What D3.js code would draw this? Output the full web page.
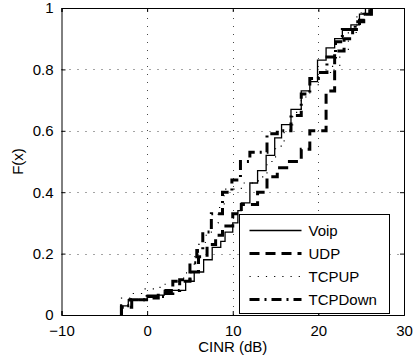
<!DOCTYPE html>
<html>
<head>
<meta charset="utf-8">
<script src="https://cdn.jsdelivr.net/npm/d3@7"></script>
<style>
  html, body { margin: 0; padding: 0; background: #fff; }
  svg { display: block; }
  text { font-family: "Liberation Sans", Arial, Helvetica, sans-serif; fill: #000; }
</style>
</head>
<body>
<svg id="chart" width="414" height="363"></svg>
<script>
// Empirical CDFs of CINR per traffic type: step positions (dB) and F(x) after each step
const voipX = [-3, -2.2, 0, 2, 4.5, 5.5, 6.6, 7.6, 8.6, 9.1, 10.0, 10.6, 11.0, 12.0, 12.9, 13.9, 14.9, 15.7, 16.8, 18.0, 19.0, 19.9, 20.9, 21.9, 22.8, 23.8, 24.8, 25.5];
const voipF = [0.03, 0.05, 0.065, 0.08, 0.11, 0.14, 0.18, 0.22, 0.24, 0.27, 0.30, 0.34, 0.365, 0.43, 0.47, 0.52, 0.577, 0.62, 0.67, 0.73, 0.76, 0.83, 0.87, 0.90, 0.93, 0.945, 0.98, 1.0];

const udpX = [-3, -1.8, 0.2, 1.3, 3.0, 5.0, 6.0, 7.0, 8.0, 8.8, 10.0, 11.0, 12.9, 14.0, 15.2, 16.3, 18.0, 19.0, 20.9, 21.9, 23.0, 24.0, 24.8, 25.5, 26.0];
const udpF = [0.025, 0.05, 0.055, 0.07, 0.11, 0.14, 0.19, 0.23, 0.26, 0.29, 0.33, 0.36, 0.40, 0.45, 0.48, 0.50, 0.54, 0.60, 0.73, 0.86, 0.90, 0.93, 0.96, 0.98, 1.0];

const tcpUpX = [-3, -2, -0.5, 1, 2, 3, 4, 4.6, 5.0, 5.5, 6.0, 6.8, 7.5, 8.3, 9.0, 11.0, 13.0, 14.0, 15.0, 16.0, 17.0, 18.0, 19.0, 20.0, 21.5, 22.5, 23.5, 24.5, 25.0];
const tcpUpF = [0.055, 0.07, 0.085, 0.09, 0.10, 0.11, 0.12, 0.14, 0.16, 0.19, 0.23, 0.26, 0.30, 0.35, 0.41, 0.43, 0.45, 0.50, 0.55, 0.60, 0.66, 0.71, 0.75, 0.79, 0.81, 0.86, 0.92, 0.98, 1.0];

const tcpDownX = [-3, -2.0, 0, 2.2, 3.8, 5.0, 5.8, 6.5, 7.5, 8.8, 9.9, 10.9, 12.0, 14.0, 15.2, 16.8, 18.0, 19.0, 20.0, 21.0, 22.0, 22.8, 24.3, 25.3, 26.2];
const tcpDownF = [0.03, 0.05, 0.06, 0.08, 0.115, 0.17, 0.21, 0.27, 0.33, 0.40, 0.44, 0.50, 0.53, 0.59, 0.60, 0.65, 0.72, 0.77, 0.79, 0.84, 0.89, 0.93, 0.955, 0.98, 1.0];

const seriesNames = ["Voip", "UDP", "TCPUP", "TCPDown"];
const xTicks = [-10, 0, 10, 20, 30];
const xTickLabels = ["\u221210", "0", "10", "20", "30"];
const yTicks = [0, 0.2, 0.4, 0.6, 0.8, 1];
const yTickLabels = ["0", "0.2", "0.4", "0.6", "0.8", "1"];
const xLabel = "CINR (dB)";
const yLabel = "F(x)";

const series = [
  { name: seriesNames[0], xs: voipX, fs: voipF, width: 1.3, dash: null },
  { name: seriesNames[1], xs: udpX, fs: udpF, width: 3, dash: "10,6" },
  { name: seriesNames[2], xs: tcpUpX, fs: tcpUpF, width: 1.1, dash: "1.2,7" },
  { name: seriesNames[3], xs: tcpDownX, fs: tcpDownF, width: 3, dash: "10,5,2,5" }
];

const svg = d3.select("#chart");
const plot = { left: 61.5, right: 404, top: 8, bottom: 315 };

const x = d3.scaleLinear().domain([-10, 30]).range([plot.left, plot.right]);
const y = d3.scaleLinear().domain([0, 1]).range([plot.bottom, plot.top]);

svg.append("defs").append("clipPath").attr("id", "plotClip")
  .append("rect")
  .attr("x", plot.left).attr("y", plot.top)
  .attr("width", plot.right - plot.left).attr("height", plot.bottom - plot.top);

// dotted grid
const grid = svg.append("g").attr("stroke", "#333").attr("stroke-width", 0.9).attr("stroke-dasharray", "1,7");
grid.selectAll("line.gx").data(xTicks.slice(1, -1)).join("line")
  .attr("x1", d => Math.round(x(d)) + 0.5).attr("x2", d => Math.round(x(d)) + 0.5)
  .attr("y1", plot.bottom).attr("y2", plot.top);
grid.selectAll("line.gy").data(yTicks.slice(1, -1)).join("line")
  .attr("y1", d => Math.round(y(d)) + 0.5).attr("y2", d => Math.round(y(d)) + 0.5)
  .attr("x1", plot.left).attr("x2", plot.right);

// ECDF stairs
const line = d3.line().x(d => x(d[0])).y(d => y(d[1])).curve(d3.curveStepAfter);
const lines = svg.append("g").attr("clip-path", "url(#plotClip)");
series.forEach(s => {
  const pts = [[s.xs[0], 0]].concat(s.xs.map((v, i) => [v, s.fs[i]]));
  lines.append("path")
    .attr("d", line(pts))
    .attr("fill", "none")
    .attr("stroke", "#000")
    .attr("stroke-width", s.width)
    .attr("stroke-dasharray", s.dash);
});

// axes box with inward ticks on all sides
const tickLen = 4;
const axisBottom = d3.axisBottom(x).tickValues(xTicks).tickSize(-tickLen).tickPadding(10)
  .tickFormat((d, i) => xTickLabels[i]);
const axisTop = d3.axisTop(x).tickValues(xTicks).tickSize(-tickLen).tickFormat("");
const axisLeft = d3.axisLeft(y).tickValues(yTicks).tickSize(-tickLen).tickPadding(8)
  .tickFormat((d, i) => yTickLabels[i]);
const axisRight = d3.axisRight(y).tickValues(yTicks).tickSize(-tickLen).tickFormat("");

function styleAxis(g) {
  g.select(".domain").attr("stroke", "#000").attr("stroke-width", 1);
  g.selectAll(".tick line").attr("stroke", "#000");
  g.selectAll(".tick text").attr("font-size", 15).attr("font-family", "Liberation Sans, Arial, sans-serif").attr("fill", "#000");
}

svg.append("g").attr("transform", `translate(0,${plot.bottom})`).call(axisBottom).call(styleAxis);
svg.append("g").attr("transform", `translate(0,${plot.top})`).call(axisTop).call(styleAxis);
svg.append("g").attr("transform", `translate(${plot.left},0)`).call(axisLeft).call(styleAxis);
svg.append("g").attr("transform", `translate(${plot.right},0)`).call(axisRight).call(styleAxis);

// axis titles
svg.append("text")
  .attr("x", (plot.left + plot.right) / 2).attr("y", 352)
  .attr("text-anchor", "middle").attr("font-size", 15)
  .text(xLabel);
svg.append("text")
  .attr("transform", `translate(23,${(plot.top + plot.bottom) / 2}) rotate(-90)`)
  .attr("text-anchor", "middle").attr("font-size", 15)
  .text(yLabel);

// legend
const leg = { x: 239.5, y: 214.5, w: 150, h: 99 };
const legend = svg.append("g");
legend.append("rect")
  .attr("x", leg.x).attr("y", leg.y).attr("width", leg.w).attr("height", leg.h)
  .attr("fill", "#fff").attr("stroke", "#000").attr("stroke-width", 1);
series.forEach((s, i) => {
  const cy = leg.y + 16 + i * 23;
  legend.append("line")
    .attr("x1", leg.x + 10).attr("x2", leg.x + 62)
    .attr("y1", cy).attr("y2", cy)
    .attr("stroke", "#000").attr("stroke-width", s.width)
    .attr("stroke-dasharray", s.dash);
  legend.append("text")
    .attr("x", leg.x + 69).attr("y", cy + 5.5)
    .attr("font-size", 15)
    .text(s.name);
});
</script>
</body>
</html>
